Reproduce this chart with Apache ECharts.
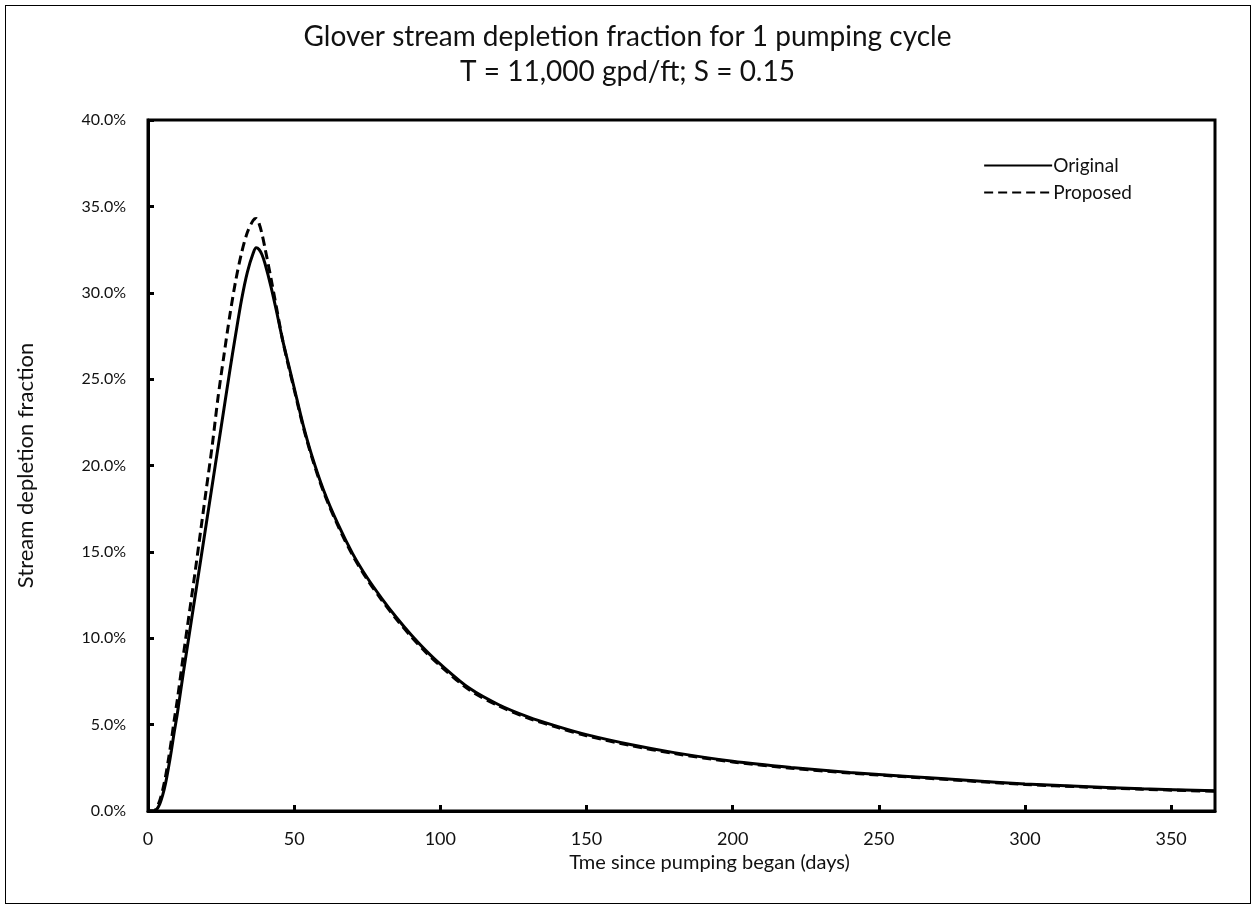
<!DOCTYPE html>
<html>
<head>
<meta charset="utf-8">
<script src="https://cdn.jsdelivr.net/npm/echarts@6/dist/echarts.min.js"></script>
<style>
html,body{margin:0;padding:0;background:#fff;}
#frame{position:absolute;left:5px;top:5px;width:1244px;height:897px;border:1.5px solid #000;}
#chart{position:absolute;left:0;top:0;width:1255px;height:915px;}
</style>
</head>
<body>
<div id="frame"></div>
<div id="chart"></div>
<script>
const titleLines = ["Glover stream depletion fraction for 1 pumping cycle", "T = 11,000 gpd/ft; S = 0.15"];
const xName = "Tme since pumping began (days)";
const yName = "Stream depletion fraction";
const seriesNames = ["Original", "Proposed"];
const xTicks = [0, 50, 100, 150, 200, 250, 300, 350];
const yTicks = [0, 5, 10, 15, 20, 25, 30, 35, 40];

const days = [0,2,3,4,5,6,7,8,9,10,12,14,16,18,20,22,24,26,28,30,32,34,36,37,38,39,40,42,44,46,48,50,53,56,60,65,70,75,80,85,90,95,100,110,120,130,140,150,165,180,200,220,240,260,280,300,320,340,365];
const original = [0,0,0.1,0.4,0.9,1.6,2.5,3.5,4.6,5.6,7.9,10.1,12.3,14.5,16.7,18.9,21.1,23.3,25.5,27.6,29.6,31.2,32.3,32.6,32.5,32.2,31.7,30.4,28.9,27.3,25.9,24.5,22.4,20.6,18.6,16.6,14.9,13.5,12.3,11.2,10.2,9.3,8.5,7.1,6.15,5.45,4.9,4.42,3.85,3.38,2.88,2.52,2.23,2.0,1.78,1.57,1.42,1.29,1.17];
const proposed = [0,0,0.2,0.6,1.2,2.0,3.0,4.1,5.3,6.4,8.9,11.3,13.7,16.2,18.7,21.2,24.0,26.4,28.7,30.7,32.3,33.5,34.2,34.3,34.0,33.4,32.6,30.9,29.1,27.3,25.8,24.4,22.3,20.5,18.5,16.5,14.8,13.4,12.2,11.1,10.1,9.2,8.4,7.0,6.08,5.38,4.84,4.36,3.79,3.33,2.84,2.48,2.2,1.97,1.75,1.54,1.39,1.26,1.14];

const chart = echarts.init(document.getElementById('chart'));
const font = 'Lato, "Open Sans", sans-serif';
chart.setOption({
  animation: false,
  backgroundColor: 'transparent',
  title: {
    text: titleLines.join('\n'),
    left: 'center',
    top: 14,
    textStyle: {fontFamily: font, fontSize: 28, fontWeight: 'normal', color: '#111', lineHeight: 35}
  },
  legend: {
    orient: 'vertical',
    right: 118,
    top: 151,
    itemWidth: 68,
    itemHeight: 14,
    itemGap: 8,
    data: seriesNames,
    itemStyle: {opacity: 0},
    textStyle: {fontFamily: font, fontSize: 19, color: '#111', padding: [0,0,0,-4]}
  },
  grid: {left: 148, right: 40, top: 120, bottom: 104, show: true, borderColor: '#000', borderWidth: 3},
  xAxis: {
    type: 'value', min: 0, max: 365, interval: 50,
    name: xName, nameLocation: 'middle', nameGap: 40,
    nameTextStyle: {fontFamily: font, fontSize: 20, color: '#111', padding: [0,0,0,56]},
    axisLine: {lineStyle: {color: '#000', width: 3}},
    axisTick: {inside: true, length: 6, lineStyle: {color: '#000', width: 3}, customValues: xTicks},
    axisLabel: {fontFamily: font, fontSize: 18, color: '#111', margin: 19, customValues: xTicks},
    splitLine: {show: false}
  },
  yAxis: {
    type: 'value', min: 0, max: 40, interval: 5,
    name: yName, nameLocation: 'middle', nameGap: 111, nameRotate: 90,
    nameTextStyle: {fontFamily: font, fontSize: 22, color: '#111'},
    axisLine: {lineStyle: {color: '#000', width: 3}},
    axisTick: {inside: true, length: 6, lineStyle: {color: '#000', width: 3}, customValues: yTicks},
    axisLabel: {fontFamily: font, fontSize: 16, color: '#111', margin: 22, customValues: yTicks,
      formatter: v => v.toFixed(1) + '%'},
    splitLine: {show: false}
  },
  series: [
    {name: seriesNames[0], type: 'line', smooth: 0.3, symbol: 'none',
     lineStyle: {color: '#000', width: 3, type: 'solid'}, itemStyle: {color: '#000'},
     data: days.map((d, i) => [d, original[i]])},
    {name: seriesNames[1], type: 'line', smooth: 0.3, symbol: 'none',
     lineStyle: {color: '#000', width: 3, type: [9, 5]}, itemStyle: {color: '#000'},
     data: days.map((d, i) => [d, proposed[i]])}
  ]
});
</script>
</body>
</html>
